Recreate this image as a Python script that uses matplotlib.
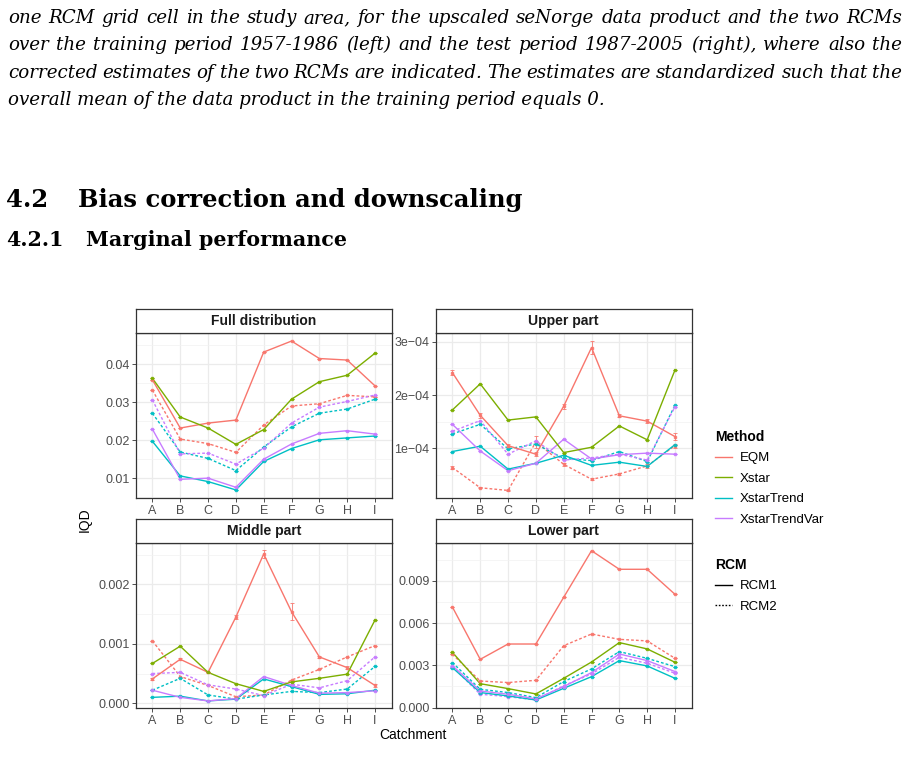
import matplotlib
matplotlib.use("Agg")
import matplotlib.pyplot as plt
from matplotlib.lines import Line2D

W, H = 915, 773

catchments = ["A", "B", "C", "D", "E", "F", "G", "H", "I"]
methods = ["EQM", "Xstar", "XstarTrend", "XstarTrendVar"]
colors = ["#F8766D", "#7CAE00", "#00BFC4", "#C77CFF"]

# Full distribution
full_eqm_1 = [0.0359, 0.0232, 0.0245, 0.0253, 0.0432, 0.0461, 0.0415, 0.0411, 0.0343]
full_xstar_1 = [0.0363, 0.0261, 0.0232, 0.0189, 0.0228, 0.0308, 0.0354, 0.0371, 0.0429]
full_trend_1 = [0.0197, 0.0106, 0.0091, 0.0069, 0.0144, 0.0178, 0.0201, 0.0206, 0.0211]
full_tvar_1 = [0.0229, 0.0097, 0.0100, 0.0076, 0.0150, 0.0190, 0.0218, 0.0225, 0.0216]
full_eqm_2 = [0.0332, 0.0203, 0.0191, 0.0168, 0.0240, 0.0290, 0.0296, 0.0318, 0.0314]
full_trend_2 = [0.0271, 0.0169, 0.0152, 0.0120, 0.0182, 0.0235, 0.0271, 0.0282, 0.0308]
full_tvar_2 = [0.0306, 0.0164, 0.0166, 0.0137, 0.0179, 0.0245, 0.0287, 0.0302, 0.0319]

# Upper part
upper_eqm_1 = [2.42e-4, 1.62e-4, 1.05e-4, 0.89e-4, 1.79e-4, 2.89e-4, 1.61e-4, 1.51e-4, 1.22e-4]
upper_xstar_1 = [1.72e-4, 2.21e-4, 1.53e-4, 1.59e-4, 0.92e-4, 1.02e-4, 1.42e-4, 1.16e-4, 2.47e-4]
upper_trend_1 = [0.94e-4, 1.04e-4, 0.61e-4, 0.72e-4, 0.87e-4, 0.68e-4, 0.74e-4, 0.66e-4, 1.07e-4]
upper_tvar_1 = [1.45e-4, 0.95e-4, 0.58e-4, 0.72e-4, 1.17e-4, 0.80e-4, 0.88e-4, 0.91e-4, 0.89e-4]
upper_eqm_2 = [0.64e-4, 0.26e-4, 0.21e-4, 1.12e-4, 0.70e-4, 0.42e-4, 0.52e-4, 0.67e-4, 1.05e-4]
upper_trend_2 = [1.27e-4, 1.45e-4, 0.99e-4, 1.08e-4, 0.81e-4, 0.77e-4, 0.94e-4, 0.75e-4, 1.81e-4]
upper_tvar_2 = [1.32e-4, 1.52e-4, 0.89e-4, 1.14e-4, 0.78e-4, 0.82e-4, 0.89e-4, 0.78e-4, 1.78e-4]
upper_eqm_1_err = [0.04e-4, 0.05e-4, 0.03e-4, 0.04e-4, 0.05e-4, 0.12e-4, 0.03e-4, 0.04e-4, 0.07e-4]
upper_eqm_2_err = [0.02e-4, 0.01e-4, 0.01e-4, 0.12e-4, 0.03e-4, 0.02e-4, 0.02e-4, 0.03e-4, 0.04e-4]

# Middle part
middle_eqm_1 = [0.00041, 0.00074, 0.00052, 0.00145, 0.00251, 0.00154, 0.00078, 0.00060, 0.00030]
middle_xstar_1 = [0.00067, 0.00096, 0.00052, 0.00033, 0.00020, 0.00036, 0.00042, 0.00049, 0.00140]
middle_trend_1 = [0.00010, 0.00012, 0.00004, 0.00007, 0.00041, 0.00028, 0.00015, 0.00016, 0.00022]
middle_tvar_1 = [0.00022, 0.00010, 0.00004, 0.00008, 0.00045, 0.00030, 0.00017, 0.00018, 0.00021]
middle_eqm_2 = [0.00105, 0.00045, 0.00030, 0.00011, 0.00014, 0.00039, 0.00057, 0.00078, 0.00097]
middle_trend_2 = [0.00022, 0.00042, 0.00014, 0.00007, 0.00014, 0.00020, 0.00018, 0.00024, 0.00062]
middle_tvar_2 = [0.00050, 0.00052, 0.00031, 0.00024, 0.00013, 0.00032, 0.00026, 0.00038, 0.00078]
middle_eqm_1_err = [0.00001, 0.00002, 0.00001, 0.00003, 0.00006, 0.00014, 0.00002, 0.00003, 0.00002]

# Lower part
lower_eqm_1 = [0.00715, 0.00343, 0.00452, 0.00452, 0.00784, 0.01115, 0.00983, 0.00983, 0.00805]
lower_xstar_1 = [0.00393, 0.00170, 0.00135, 0.00097, 0.00208, 0.00324, 0.00462, 0.00417, 0.00322]
lower_trend_1 = [0.00284, 0.00107, 0.00083, 0.00054, 0.00137, 0.00220, 0.00334, 0.00296, 0.00208]
lower_tvar_1 = [0.00298, 0.00118, 0.00095, 0.00062, 0.00149, 0.00249, 0.00381, 0.00334, 0.00256]
lower_eqm_2 = [0.00379, 0.00189, 0.00178, 0.00194, 0.00440, 0.00523, 0.00485, 0.00474, 0.00350]
lower_trend_2 = [0.00320, 0.00130, 0.00107, 0.00071, 0.00185, 0.00275, 0.00398, 0.00350, 0.00291]
lower_tvar_2 = [0.00291, 0.00095, 0.00078, 0.00054, 0.00156, 0.00239, 0.00358, 0.00315, 0.00244]

panels = [
    {"title": "Full distribution",
     "lines": [("EQM", 2, full_eqm_2, None), ("XstarTrend", 2, full_trend_2, None),
               ("XstarTrendVar", 2, full_tvar_2, None), ("EQM", 1, full_eqm_1, None),
               ("XstarTrend", 1, full_trend_1, None), ("XstarTrendVar", 1, full_tvar_1, None),
               ("Xstar", 1, full_xstar_1, None)],
     "ticks": [0.01, 0.02, 0.03, 0.04], "labels": ["0.01", "0.02", "0.03", "0.04"],
     "minor": [0.005, 0.015, 0.025, 0.035, 0.045], "ylim": (0.0047, 0.0483),
     "box": (135.7, 332.7, 391.7, 498.3)},
    {"title": "Upper part",
     "lines": [("EQM", 2, upper_eqm_2, upper_eqm_2_err), ("XstarTrend", 2, upper_trend_2, None),
               ("XstarTrendVar", 2, upper_tvar_2, None), ("EQM", 1, upper_eqm_1, upper_eqm_1_err),
               ("XstarTrend", 1, upper_trend_1, None), ("XstarTrendVar", 1, upper_tvar_1, None),
               ("Xstar", 1, upper_xstar_1, None)],
     "ticks": [1e-4, 2e-4, 3e-4], "labels": ["1e\u221204", "2e\u221204", "3e\u221204"],
     "minor": [0.5e-4, 1.5e-4, 2.5e-4], "ylim": (0.0625e-4, 3.169e-4),
     "box": (435.7, 332.7, 691.7, 498.3)},
    {"title": "Middle part",
     "lines": [("EQM", 2, middle_eqm_2, None), ("XstarTrend", 2, middle_trend_2, None),
               ("XstarTrendVar", 2, middle_tvar_2, None), ("EQM", 1, middle_eqm_1, middle_eqm_1_err),
               ("XstarTrend", 1, middle_trend_1, None), ("XstarTrendVar", 1, middle_tvar_1, None),
               ("Xstar", 1, middle_xstar_1, None)],
     "ticks": [0.0, 0.001, 0.002], "labels": ["0.000", "0.001", "0.002"],
     "minor": [0.0005, 0.0015, 0.0025], "ylim": (-0.000084, 0.0027),
     "box": (135.7, 542.7, 391.7, 708.3)},
    {"title": "Lower part",
     "lines": [("EQM", 2, lower_eqm_2, None), ("XstarTrend", 2, lower_trend_2, None),
               ("XstarTrendVar", 2, lower_tvar_2, None), ("EQM", 1, lower_eqm_1, None),
               ("XstarTrend", 1, lower_trend_1, None), ("XstarTrendVar", 1, lower_tvar_1, None),
               ("Xstar", 1, lower_xstar_1, None)],
     "ticks": [0.0, 0.003, 0.006, 0.009], "labels": ["0.000", "0.003", "0.006", "0.009"],
     "minor": [0.0015, 0.0045, 0.0075, 0.0105], "ylim": (-0.00005, 0.01172),
     "box": (435.7, 542.7, 691.7, 708.3)},
]

caption = [
    "one RCM grid cell in the study area, for the upscaled seNorge data product and the two RCMs",
    "over the training period 1957-1986 (left) and the test period 1987-2005 (right), where also the",
    "corrected estimates of the two RCMs are indicated. The estimates are standardized such that the",
]
caption_last = "overall mean of the data product in the training period equals 0."

plt.rcParams["font.family"] = ["Liberation Sans", "DejaVu Sans"]
fig = plt.figure(figsize=(W / 100, H / 100), dpi=100)
fig.patch.set_facecolor("white")
renderer = fig.canvas.get_renderer()


def fx(px):
    return px / W


def fy(py):
    return 1 - py / H


def fit_size(s, target, **kw):
    t = fig.text(0, 0, s, fontsize=10, **kw)
    w = t.get_window_extent(renderer).width
    t.remove()
    return 10 * target / w


# page text above the figure
serif_it = dict(family="DejaVu Serif", style="italic")
fs = fit_size(caption_last, 598, **serif_it)
fig.text(fx(8), fy(105), caption_last, fontsize=fs, va="baseline", **serif_it)
for i, line in enumerate(caption):
    words = line.split(" ")
    objs = [fig.text(0, fy(23 + 27.3 * i), w, fontsize=fs, va="baseline", **serif_it) for w in words]
    widths = [o.get_window_extent(renderer).width for o in objs]
    gap = (902 - 8 - sum(widths)) / (len(words) - 1)
    x = 8
    for o, w in zip(objs, widths):
        o.set_x(fx(x))
        x += w + gap

serif_bd = dict(family="DejaVu Serif", weight="bold")
hs = fit_size("Bias correction and downscaling", 445, **serif_bd)
fig.text(fx(6), fy(207), "4.2", fontsize=hs, va="baseline", **serif_bd)
fig.text(fx(78), fy(207), "Bias correction and downscaling", fontsize=hs, va="baseline", **serif_bd)
ss = fit_size("Marginal performance", 262, **serif_bd)
fig.text(fx(6), fy(246), "4.2.1", fontsize=ss, va="baseline", **serif_bd)
fig.text(fx(86), fy(246), "Marginal performance", fontsize=ss, va="baseline", **serif_bd)

# panels
for p in panels:
    x0, y0, x1, y1 = p["box"]
    ax = fig.add_axes([fx(x0), fy(y1), (x1 - x0) / W, (y1 - y0) / H])
    xs = range(len(catchments))
    for m, rcm, vals, err in p["lines"]:
        c = colors[methods.index(m)]
        ls = "-" if rcm == 1 else (0, (2.0, 1.5))
        ax.plot(xs, vals, color=c, lw=1.0, ls=ls, zorder=3)
        ax.errorbar(xs, vals, yerr=err if err is not None else [0] * len(vals),
                    fmt="s", ms=1.5, color=c, ecolor=c, elinewidth=0.7, capsize=1.4,
                    capthick=0.7, alpha=0.85, zorder=4)
    ax.set_xlim(-0.6, 8.6)
    ax.set_ylim(*p["ylim"])
    ax.set_xticks(list(xs))
    ax.set_xticklabels(catchments)
    ax.set_yticks(p["ticks"])
    ax.set_yticklabels(p["labels"])
    ax.set_yticks(p["minor"], minor=True)
    ax.grid(True, which="major", color="#EBEBEB", lw=0.9, zorder=0)
    ax.grid(True, which="minor", axis="y", color="#F2F2F2", lw=0.5, zorder=0)
    ax.set_axisbelow(True)
    ax.tick_params(which="major", length=3, width=0.6, color="#333333",
                   labelsize=9, labelcolor="#4D4D4D", pad=1.5)
    ax.tick_params(which="minor", length=0)
    for s in ax.spines.values():
        s.set_color("#333333")
        s.set_linewidth(0.9)
    # strip
    sax = fig.add_axes([fx(x0), fy(y0), (x1 - x0) / W, 23.5 / H])
    sax.set_xticks([])
    sax.set_yticks([])
    sax.set_facecolor("white")
    for s in sax.spines.values():
        s.set_color("#333333")
        s.set_linewidth(0.9)
    sax.text(0.5, 0.5, p["title"], ha="center", va="center", fontsize=10,
             weight="bold", color="#1A1A1A", transform=sax.transAxes)

fig.text(fx(85), fy(520), "IQD", rotation=90, ha="center", va="center", fontsize=10)
fig.text(fx(413), fy(735), "Catchment", ha="center", va="center", fontsize=10)

# legends
mh = [Line2D([], [], color=c, lw=1) for c in colors]
leg1 = fig.legend(mh, methods, title="Method", loc="upper left",
                  bbox_to_anchor=(fx(703), fy(418)), frameon=False, fontsize=9.5,
                  title_fontproperties={"weight": "bold", "size": 10},
                  alignment="left", handlelength=1.3, handletextpad=0.6, labelspacing=0.62)
rh = [Line2D([], [], color="black", lw=1), Line2D([], [], color="black", lw=1, ls=(0, (1.2, 1.2)))]
leg2 = fig.legend(rh, ["RCM1", "RCM2"], title="RCM", loc="upper left",
                  bbox_to_anchor=(fx(703), fy(546)), frameon=False, fontsize=9.5,
                  title_fontproperties={"weight": "bold", "size": 10},
                  alignment="left", handlelength=1.3, handletextpad=0.6, labelspacing=0.62)

fig.savefig("out.png", dpi=100)
